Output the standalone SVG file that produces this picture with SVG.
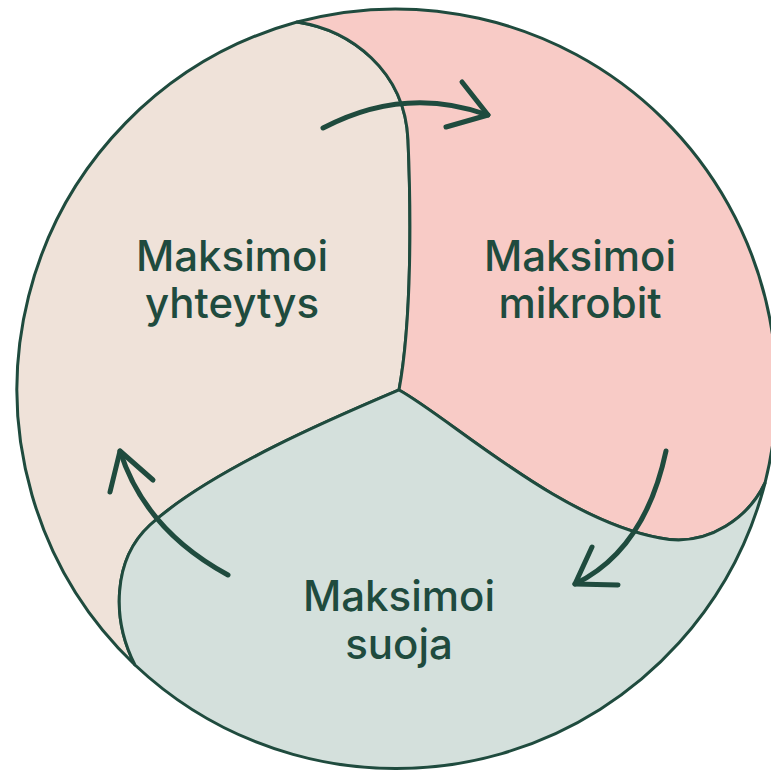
<svg xmlns="http://www.w3.org/2000/svg" width="771" height="774" viewBox="0 0 771 774">
<style>
.region{stroke:#1f4b3e;stroke-width:3;stroke-linejoin:round}
.arrow{fill:none;stroke:#1f4b3e;stroke-width:5;stroke-linecap:round;stroke-linejoin:round}
.label{font-family:Inter,"Noto Sans",sans-serif;font-weight:500;font-size:42px;fill:#1f4b3e;text-anchor:middle}
</style>
<rect width="771" height="774" fill="#ffffff"/>
<g id="node-yhteytys">
<path class="region" fill="#efe2d9" d="M297,22 C350,30 405,70 408,140 C411,210 412,320 399,390 C340,415 210,470 150,525 C112,560 112,620 135,665 A381,381 0 0 1 297,22 Z"/>
<text class="label" x="232" y="271">Maksimoi</text>
<text class="label" x="232" y="318">yhteytys</text>
</g>
<g id="node-mikrobit">
<path class="region" fill="#f8cbc6" d="M297,22 A381,381 0 0 1 765,483 C750,515 710,548 660,538 C560,520 450,418 399,390 C412,320 411,210 408,140 C405,70 350,30 297,22 Z"/>
<text class="label" x="580" y="271">Maksimoi</text>
<text class="label" x="580" y="318">mikrobit</text>
</g>
<g id="node-suoja">
<path class="region" fill="#d4e0dc" d="M399,390 C450,418 560,520 660,538 C710,548 750,515 765,483 A381,381 0 0 1 135,665 C112,620 112,560 150,525 C210,470 340,415 399,390 Z"/>
<text class="label" x="399" y="611">Maksimoi</text>
<text class="label" x="399" y="659">suoja</text>
</g>
<g id="connectors">
<path class="arrow" d="M323,128 Q405,85 488,115"/>
<path class="arrow" d="M462,82 L488,115 L446,127"/>
<path class="arrow" d="M666,451 Q645,550 575,584"/>
<path class="arrow" d="M592,547 L575,584 L618,585"/>
<path class="arrow" d="M228,575 Q145,530 120,451"/>
<path class="arrow" d="M110,492 L120,451 L153,480"/>
</g>
</svg>
